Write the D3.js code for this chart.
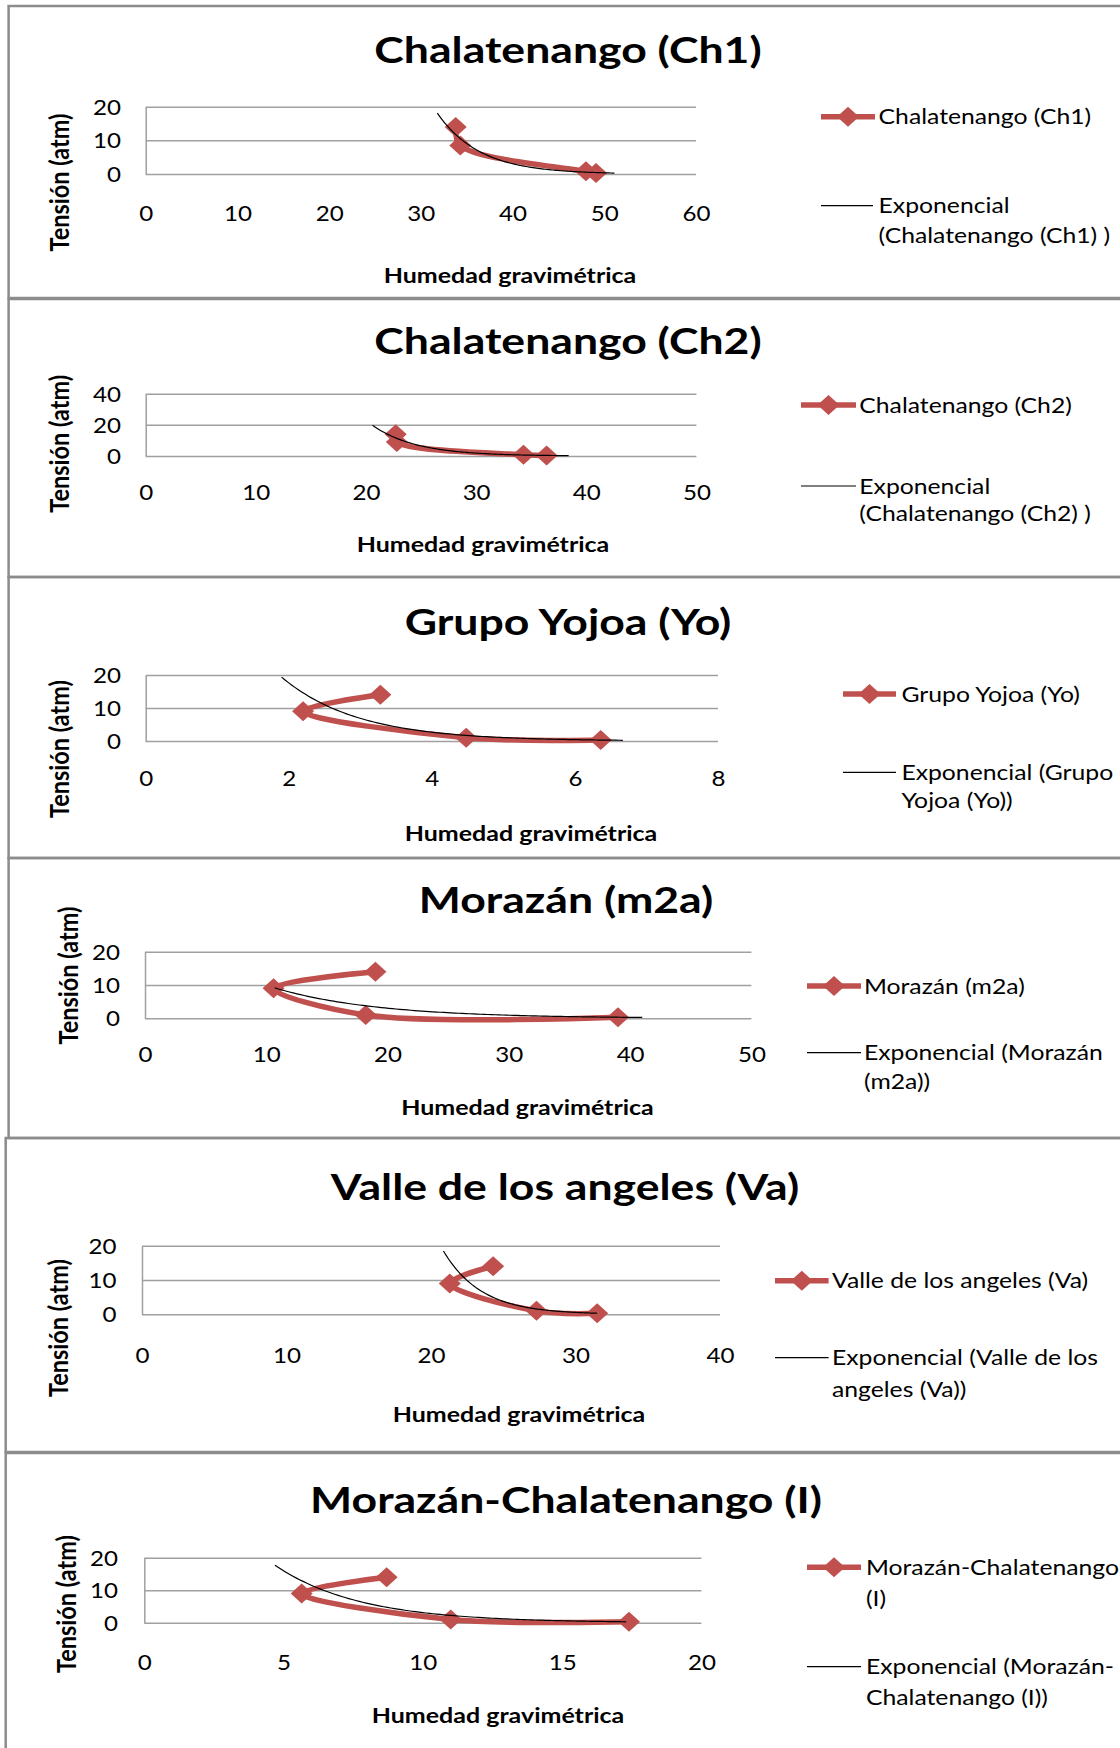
<!DOCTYPE html>
<html><head><meta charset="utf-8">
<script src="https://cdn.jsdelivr.net/npm/d3@7"></script>
<style>html,body{margin:0;padding:0;background:#fff;} svg{display:block;}</style>
</head><body>
<svg id="chart" width="1120" height="1748"></svg>
<script>
// ---------------- DATA ----------------
const panelTitles = ["Chalatenango (Ch1)", "Chalatenango (Ch2)", "Grupo Yojoa (Yo)", "Morazán (m2a)", "Valle de los angeles (Va)", "Morazán-Chalatenango (I)"];
const seriesLegend = [["Chalatenango (Ch1)"], ["Chalatenango (Ch2)"], ["Grupo Yojoa (Yo)"], ["Morazán (m2a)"], ["Valle de los angeles (Va)"], ["Morazán-Chalatenango", "(I)"]];
const trendLegend = [["Exponencial", "(Chalatenango (Ch1) )"], ["Exponencial", "(Chalatenango (Ch2) )"], ["Exponencial (Grupo", "Yojoa (Yo))"], ["Exponencial (Morazán", "(m2a))"], ["Exponencial (Valle de los", "angeles (Va))"], ["Exponencial (Morazán-", "Chalatenango (I))"]];
const xAxisTitle = "Humedad gravimétrica";
const yAxisTitle = "Tensión (atm)";

const humedadCh1 = [33.8, 34.3, 48.0, 49.1];
const tensionCh1 = [14, 8.5, 0.8, 0.3];
const humedadCh2 = [22.7, 22.8, 34.3, 36.4];
const tensionCh2 = [14, 9, 0.8, 0.3];
const humedadYo = [3.28, 2.2, 4.48, 6.36];
const tensionYo = [14, 9, 1, 0.3];
const humedadM2a = [19.0, 10.6, 18.2, 39.0];
const tensionM2a = [14, 9, 1, 0.3];
const humedadVa = [24.3, 21.3, 27.3, 31.5];
const tensionVa = [14, 9, 1, 0.3];
const humedadI = [8.7, 5.65, 11.0, 17.4];
const tensionI = [14, 9, 1, 0.3];

const xTicksCh1 = [0, 10, 20, 30, 40, 50, 60];
const xTicksCh2 = [0, 10, 20, 30, 40, 50];
const xTicksYo = [0, 2, 4, 6, 8];
const xTicksM2a = [0, 10, 20, 30, 40, 50];
const xTicksVa = [0, 10, 20, 30, 40];
const xTicksI = [0, 5, 10, 15, 20];
const yTicks20 = [0, 10, 20];
const yTicks40 = [0, 20, 40];

// x-range covered by each exponential trendline
const trendRangeCh1 = [31.8, 51.1];
const trendRangeCh2 = [20.6, 38.4];
const trendRangeYo = [1.9, 6.67];
const trendRangeM2a = [10.7, 41.0];
const trendRangeVa = [20.86, 31.5];
const trendRangeI = [4.69, 17.3];

const panels = [
  {x: humedadCh1, y: tensionCh1, xt: xTicksCh1, yt: yTicks20, tr: trendRangeCh1},
  {x: humedadCh2, y: tensionCh2, xt: xTicksCh2, yt: yTicks40, tr: trendRangeCh2},
  {x: humedadYo, y: tensionYo, xt: xTicksYo, yt: yTicks20, tr: trendRangeYo},
  {x: humedadM2a, y: tensionM2a, xt: xTicksM2a, yt: yTicks20, tr: trendRangeM2a},
  {x: humedadVa, y: tensionVa, xt: xTicksVa, yt: yTicks20, tr: trendRangeVa},
  {x: humedadI, y: tensionI, xt: xTicksI, yt: yTicks20, tr: trendRangeI}
];

// ---------------- LAYOUT ----------------
const layout = [
 {box:[8.6,6,298], title:[568,63], plot:[145.7,696,106.7,174], xTickC:213, yTickX:121, xTitle:[510,275.5], yTitle:[69,182.5], lgS:[821,875,116.7,878.6], lgT:[821,873,205.7,878.6], lh:29.3},
 {box:[8.6,299,577], title:[568,354.3], plot:[145.7,696.4,393.7,456], xTickC:492.3, yTickX:121, xTitle:[483,544.3], yTitle:[69,443.8], lgS:[801,856,405,859.3], lgT:[801,856,486,859.3], lh:27.3},
 {box:[8.6,577,858], title:[568,635], plot:[145.7,718,675,741], xTickC:778.3, yTickX:121, xTitle:[531,833.3], yTitle:[69,749], lgS:[843,896,694,901.4], lgT:[843,896,772.3,901.4], lh:28.4},
 {box:[8.6,858,1138], title:[566,913.3], plot:[145,751.4,951.7,1018.3], xTickC:1054.3, yTickX:120, xTitle:[527.5,1107.3], yTitle:[78,975.5], lgS:[807,861,986,864], lgT:[807,861,1052.7,864], lh:29},
 {box:[5.7,1138,1452], title:[565,1200], plot:[142,720,1245.7,1314.3], xTickC:1355, yTickX:116.4, xTitle:[519,1414.3], yTitle:[68,1328], lgS:[775,828.6,1280.7,832], lgT:[775,828.6,1357.7,832], lh:31.3},
 {box:[5.7,1453,1770], title:[566,1513.3], plot:[144.3,701.4,1557.7,1622.7], xTickC:1662.7, yTickX:118, xTitle:[498,1715], yTitle:[76,1604], lgS:[807,861,1567.3,866], lgT:[807,861,1666.7,866], lh:30.6}
];

const FONT = "Lato, 'Open Sans', sans-serif";
const SX = 1.15;           // horizontal stretch of the text
const RED = "#c0504d";
const GRID = "#a0a0a0";
const BORDER = "#8c8c8c";
const TITLE_SIZE = 37, AXT_SIZE = 21, YT_SIZE = 23.5, TICK_SIZE = 21, LEG_SIZE = 21.5;
const MK_W = 11, MK_H = 10, LINE_W = 5.5;

const svg = d3.select("#chart");
svg.append("rect").attr("width", 1120).attr("height", 1748).attr("fill", "#fff");

function addText(g, x, y, s, size, weight, anchor, rotate, sx) {
  return g.append("text")
    .attr("transform", `translate(${x},${y}) scale(${sx || SX},1)${rotate ? " rotate(-90)" : ""}`)
    .attr("font-family", FONT).attr("font-size", size).attr("font-weight", weight)
    .attr("text-anchor", anchor).attr("fill", "#000").text(s);
}

function diamond(g, cx, cy, hw, hh) {
  g.append("path").attr("d", `M${cx},${cy - hh}L${cx + hw},${cy}L${cx},${cy + hh}L${cx - hw},${cy}Z`).attr("fill", RED);
}

function expFit(xs, ys) {
  const n = xs.length;
  const ly = ys.map(Math.log);
  const mx = d3.mean(xs), my = d3.mean(ly);
  let sxy = 0, sxx = 0;
  for (let i = 0; i < n; i++) { sxy += (xs[i] - mx) * (ly[i] - my); sxx += (xs[i] - mx) ** 2; }
  const b = sxy / sxx;
  const lna = my - b * mx;
  return v => Math.exp(lna + b * v);
}

panels.forEach((p, i) => {
  const L = layout[i];
  const g = svg.append("g");
  const [bx, by, bb] = L.box;
  g.append("rect").attr("x", bx).attr("y", by).attr("width", 1200).attr("height", bb - by)
    .attr("fill", "none").attr("stroke", BORDER).attr("stroke-width", 2.5);

  const [pl, pr, pt, pb] = L.plot;
  const x = d3.scaleLinear().domain([p.xt[0], p.xt[p.xt.length - 1]]).range([pl, pr]);
  const y = d3.scaleLinear().domain([p.yt[0], p.yt[p.yt.length - 1]]).range([pb, pt]);

  // gridlines
  const grid = g.append("g").attr("transform", `translate(${pl},0)`)
    .call(d3.axisLeft(y).tickValues(p.yt).tickSize(-(pr - pl)).tickFormat(""));
  grid.select(".domain").remove();
  grid.selectAll("line").attr("stroke", GRID).attr("stroke-width", 1.5);

  // y axis (line + labels)
  const ya = g.append("g").attr("transform", `translate(${pl},0)`)
    .call(d3.axisLeft(y).tickValues(p.yt).tickSize(0).tickSizeOuter(0));
  ya.select(".domain").attr("stroke", GRID).attr("stroke-width", 1.5);
  ya.selectAll("text").attr("x", 0).attr("dy", null)
    .attr("y", TICK_SIZE * 0.36)
    .attr("transform", `translate(${L.yTickX - pl},0) scale(${SX},1)`)
    .attr("font-family", FONT).attr("font-size", TICK_SIZE).attr("fill", "#000").attr("text-anchor", "end");

  // x axis labels
  const xa = g.append("g").attr("transform", `translate(0,${pb})`)
    .call(d3.axisBottom(x).tickValues(p.xt).tickSize(0));
  xa.select(".domain").remove();
  xa.selectAll("text").attr("dy", null).attr("y", L.xTickC - pb + TICK_SIZE * 0.36)
    .attr("transform", `scale(${SX},1)`)
    .attr("font-family", FONT).attr("font-size", TICK_SIZE).attr("fill", "#000");

  // series (smoothed line + diamonds)
  const pts = p.x.map((v, k) => [v, p.y[k]]);
  const line = d3.line().x(d => x(d[0])).y(d => y(d[1])).curve(d3.curveCatmullRom.alpha(0.5));
  g.append("path").attr("d", line(pts)).attr("fill", "none").attr("stroke", RED)
    .attr("stroke-width", LINE_W).attr("stroke-linejoin", "round").attr("stroke-linecap", "round");
  pts.forEach(d => diamond(g, x(d[0]), y(d[1]), MK_W, MK_H));

  // exponential trendline (least squares on ln y)
  const f = expFit(p.x, p.y);
  const tx = d3.range(0, 101).map(k => p.tr[0] + (p.tr[1] - p.tr[0]) * k / 100);
  const tline = d3.line().x(d => x(d)).y(d => y(f(d)));
  g.append("path").attr("d", tline(tx)).attr("fill", "none").attr("stroke", "#000").attr("stroke-width", 1.2);

  // titles
  addText(g, L.title[0], L.title[1], panelTitles[i], TITLE_SIZE, 700, "middle", false, 1.205);
  addText(g, L.xTitle[0], L.xTitle[1] + AXT_SIZE * 0.36, xAxisTitle, AXT_SIZE, 700, "middle", false, 1.19);
  addText(g, L.yTitle[0], L.yTitle[1], yAxisTitle, YT_SIZE, 700, "middle", true, 1.15);

  // legend
  const [s1, s2, sy, stx] = L.lgS;
  g.append("line").attr("x1", s1).attr("x2", s2).attr("y1", sy).attr("y2", sy)
    .attr("stroke", RED).attr("stroke-width", LINE_W);
  diamond(g, (s1 + s2) / 2, sy, MK_W, MK_H);
  seriesLegend[i].forEach((t, k) => addText(g, stx, sy + k * L.lh + LEG_SIZE * 0.36, t, LEG_SIZE, 400, "start", false));
  const [t1, t2, ty, ttx] = L.lgT;
  g.append("line").attr("x1", t1).attr("x2", t2).attr("y1", ty).attr("y2", ty)
    .attr("stroke", "#000").attr("stroke-width", 1.2);
  trendLegend[i].forEach((t, k) => addText(g, ttx, ty + k * L.lh + LEG_SIZE * 0.36, t, LEG_SIZE, 400, "start", false));
});
</script>
</body></html>
